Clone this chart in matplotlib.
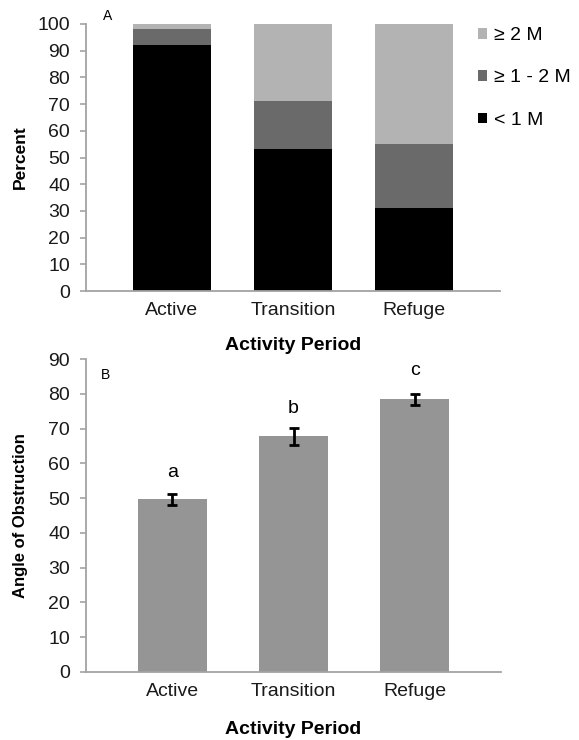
import matplotlib
matplotlib.use("Agg")
import matplotlib.pyplot as plt
from matplotlib.patches import Patch
import numpy as np

plt.rcParams['font.family'] = ['Liberation Sans', 'DejaVu Sans']

# ---- data ----
periods = ["Active", "Transition", "Refuge"]
dist_labels = ["< 1 M", "≥ 1 - 2 M", "≥ 2 M"]
pct_lt1 = [92, 53, 31]
pct_1to2 = [6, 18, 24]
pct_ge2 = [2, 29, 45]
angle_mean = [49.7, 67.8, 78.4]
angle_err = [1.6, 2.4, 1.5]
sig_letters = ["a", "b", "c"]
letter_y = [57.4, 75.9, 86.6]
pct_ticks = list(range(0, 101, 10))
angle_ticks = list(range(0, 91, 10))

dist_colors = ["#000000", "#6a6a6a", "#b3b3b3"]
bar_color = "#959595"
axis_color = "#a3a3a3"

W, H = 579, 740
fig = plt.figure(figsize=(W / 100, H / 100), dpi=100)

def axes_px(left, right, top, bottom):
    return fig.add_axes([left / W, 1 - bottom / H, (right - left) / W, (bottom - top) / H])

def style(ax):
    for s in ["top", "right"]:
        ax.spines[s].set_visible(False)
    for s in ["left", "bottom"]:
        ax.spines[s].set_color(axis_color)
        ax.spines[s].set_linewidth(1.3)
    ax.tick_params(axis="y", direction="out", length=4.5, width=1.2, color=axis_color,
                   labelsize=14, pad=7, labelcolor="#1a1a1a")
    ax.tick_params(axis="x", length=0, labelsize=14, pad=8, labelcolor="#1a1a1a")
    ax.set_xlim(-0.71, 2.71)

x = np.arange(len(periods))

# ---- panel A ----
axA = axes_px(86, 500, 24, 291)
style(axA)
bottom = np.zeros(len(periods))
for vals, col, lab in zip([pct_lt1, pct_1to2, pct_ge2], dist_colors, dist_labels):
    axA.bar(x, vals, width=0.645, bottom=bottom, color=col, label=lab)
    bottom = bottom + np.array(vals)
axA.set_ylim(0, 100)
axA.set_yticks(pct_ticks)
axA.set_xticks(x)
axA.set_xticklabels(periods)
axA.set_ylabel("Percent", fontsize=12.5, fontweight="bold")
axA.yaxis.set_label_coords((28 - 86) / 414, 0.5)
axA.set_xlabel("Activity Period", fontsize=14, fontweight="bold", labelpad=13)
axA.text((108 - 86) / 414, 1.03, "A", transform=axA.transAxes, fontsize=10,
         ha="center", va="center")

handles = [Patch(facecolor=c, edgecolor="none") for c in dist_colors][::-1]
labels = dist_labels[::-1]
fig.legend(handles, labels, loc="center left", bbox_to_anchor=(478 / W, 1 - 78 / H),
           frameon=False, fontsize=14, handlelength=0.45, handleheight=0.45,
           handletextpad=0.35, labelspacing=1.3, borderpad=0, borderaxespad=0)

# ---- panel B ----
axB = axes_px(86, 501, 359, 672)
style(axB)
axB.bar(x, angle_mean, width=0.57, color=bar_color)
axB.errorbar(x, angle_mean, yerr=angle_err, fmt="none", ecolor="black",
             elinewidth=2, capsize=3.5, capthick=2)
for xi, yi, t in zip(x, letter_y, sig_letters):
    axB.text(xi, yi, t, ha="center", va="center", fontsize=14)
axB.set_ylim(0, 90)
axB.set_yticks(angle_ticks)
axB.set_xticks(x)
axB.set_xticklabels(periods)
axB.set_ylabel("Angle of Obstruction", fontsize=12, fontweight="bold")
axB.yaxis.set_label_coords((28 - 86) / 415, 0.5)
axB.set_xlabel("Activity Period", fontsize=14, fontweight="bold", labelpad=15)
axB.text((106 - 86) / 415, 1 + (359 - 375) / 313, "B", transform=axB.transAxes,
         fontsize=10, ha="center", va="center")

fig.savefig("out.png", dpi=100)
